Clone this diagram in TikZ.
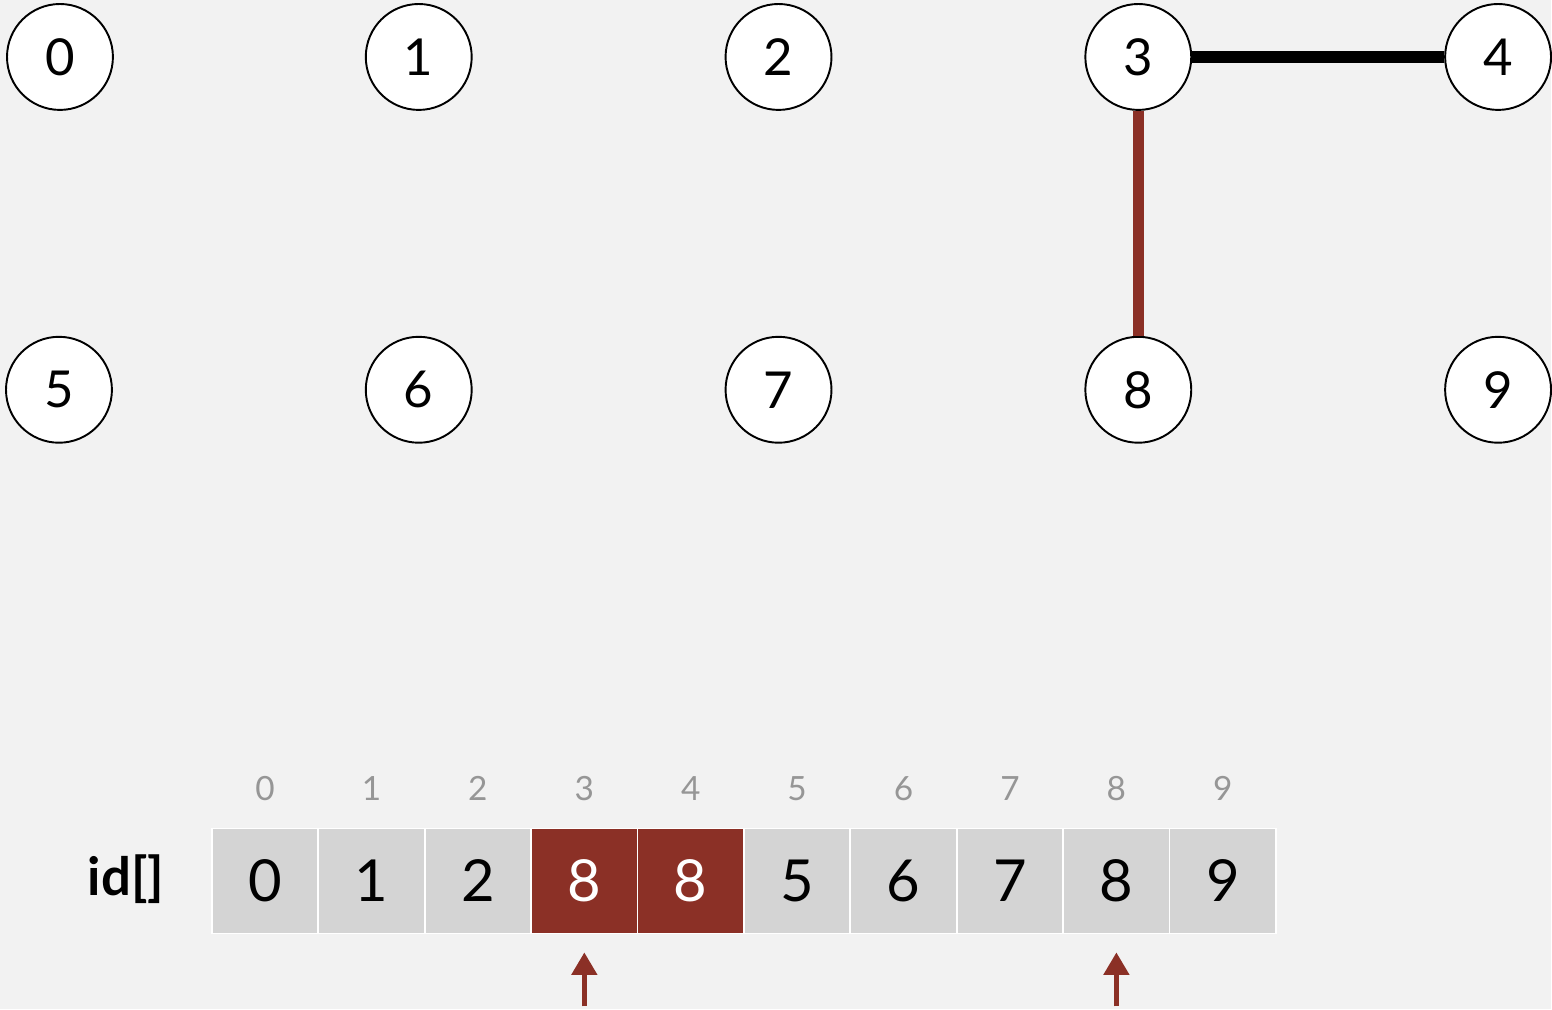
\documentclass[tikz,border=0pt]{standalone}
\usepackage{fontspec}
\setmainfont{Lato}
\usetikzlibrary{positioning}
\usetikzlibrary{arrows.meta}

\definecolor{bgcol}{RGB}{242,242,242}
\definecolor{cellgray}{RGB}{212,212,212}
\definecolor{idxgray}{RGB}{150,150,150}
\definecolor{darkred}{RGB}{139,48,38}

\begin{document}
\begin{tikzpicture}[
      x=0.02cm, y=-0.02cm,
      site/.style={draw, circle, fill=white, line width=1.1pt,
                   minimum size=2.12cm, inner sep=0pt, font=\fontsize{29}{32}\selectfont},
      cell/.style={draw=white, fill=cellgray, line width=1pt, minimum width=2.13cm,
                   minimum height=2.1cm, inner sep=0pt, outer sep=0pt,
                   font=\fontsize{33}{36}\selectfont},
      hot/.style={cell, fill=darkred, text=white},
      idx/.style={text=idxgray, font=\fontsize{19}{22}\selectfont},
      link/.style={line width=6.4pt},
      ptr/.style={darkred, line width=2.8pt, -{Triangle[width=0.5cm, length=0.45cm]}},
    ]
    \fill[bgcol] (0,0) rectangle (1552,1010);

    % the ten sites
    \node[site] (n0) at (60,57) {0};
    \node[site] (n1) at (419,57) {1};
    \node[site] (n2) at (779,57) {2};
    \node[site] (n3) at (1139,57) {3};
    \node[site] (n4) at (1499,57) {4};
    \node[site] (n5) at (59,390) {5};
    \node[site] (n6) at (419,390) {6};
    \node[site] (n7) at (779,390) {7};
    \node[site] (n8) at (1139,390) {8};
    \node[site] (n9) at (1499,390) {9};

    % connections
    \draw[link] (n3) -- (n4);
    \draw[link, darkred] (n3) -- (n8);

    % the id[] array
    \node[font=\bfseries\fontsize{30}{32}\selectfont] (lbl) at (126,880) {id[]};
    \node[cell] (c0) at (265.25,881.5) {0};
    \node[cell, right=0pt of c0] (c1) {1};
    \node[cell, right=0pt of c1] (c2) {2};
    \node[hot, right=0pt of c2] (c3) {8};
    \node[hot, right=0pt of c3] (c4) {8};
    \node[cell, right=0pt of c4] (c5) {5};
    \node[cell, right=0pt of c5] (c6) {6};
    \node[cell, right=0pt of c6] (c7) {7};
    \node[cell, right=0pt of c7] (c8) {8};
    \node[cell, right=0pt of c8] (c9) {9};

    % indices above the cells
    \node[idx] (i0) at (c0 |- 0,789) {0};
    \node[idx] (i1) at (c1 |- 0,789) {1};
    \node[idx] (i2) at (c2 |- 0,789) {2};
    \node[idx] (i3) at (c3 |- 0,789) {3};
    \node[idx] (i4) at (c4 |- 0,789) {4};
    \node[idx] (i5) at (c5 |- 0,789) {5};
    \node[idx] (i6) at (c6 |- 0,789) {6};
    \node[idx] (i7) at (c7 |- 0,789) {7};
    \node[idx] (i8) at (c8 |- 0,789) {8};
    \node[idx] (i9) at (c9 |- 0,789) {9};

    % pointers below
    \coordinate (p3) at (c3 |- 0,1007);
    \coordinate (q3) at (c3 |- 0,953);
    \coordinate (p8) at (c8 |- 0,1007);
    \coordinate (q8) at (c8 |- 0,953);
    \draw[ptr] (p3) -- (q3);
    \draw[ptr] (p8) -- (q8);
\end{tikzpicture}
\end{document}
